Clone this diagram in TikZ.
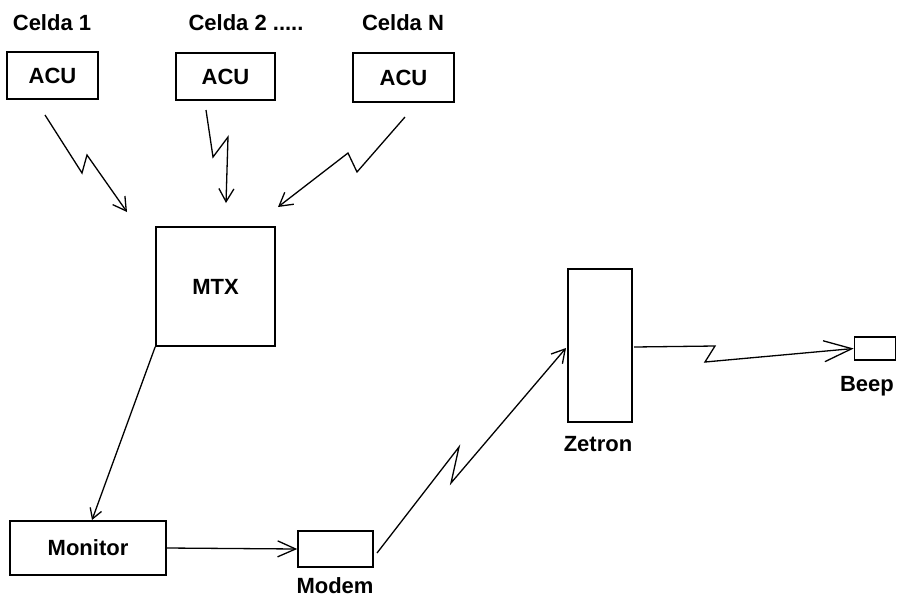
\documentclass[tikz,border=0pt]{standalone}
\usepackage{fontspec}
\setmainfont{Liberation Sans}
\usetikzlibrary{arrows.meta}
\begin{document}
\begin{tikzpicture}[x=1pt,y=-1pt,
  box/.style={draw=black,line width=1.6pt,rectangle,inner sep=0pt},
  lbl/.style={font=\fontsize{22}{25}\selectfont\bfseries,inner sep=0pt},
  conn/.style={draw=black,line width=1.3pt,line join=miter},
  arr/.style={-{Straight Barb[length=13pt,width=15pt,line width=1.3pt]}},
  bigarr/.style={-{Straight Barb[length=28pt,width=21pt,line width=1.3pt]}},
  midarr/.style={-{Straight Barb[length=18pt,width=16pt,line width=1.3pt]}}]
\useasboundingbox[fill=white] (0,0) rectangle (897,598);
% labels
\node[lbl] (t1) at (52,23) {Celda 1};
\node[lbl] (t2) at (246,23) {Celda 2 .....};
\node[lbl] (t3) at (403,23) {Celda N};
% boxes
\node[box,lbl,minimum width=91pt,minimum height=47pt] (acu1) at (52.5,75.5) {ACU};
\node[box,lbl,minimum width=99pt,minimum height=47pt] (acu2) at (225.5,76.5) {ACU};
\node[box,lbl,minimum width=101pt,minimum height=49pt] (acu3) at (403.5,77.5) {ACU};
\node[box,lbl,minimum width=119pt,minimum height=119pt] (mtx) at (215.5,286.5) {MTX};
\node[box,lbl,minimum width=156pt,minimum height=54pt] (monitor) at (88,548) {Monitor};
\node[box,minimum width=75pt,minimum height=36pt] (modem) at (335.5,549) {};
\node[box,minimum width=64pt,minimum height=153pt] (zetron) at (600,345.5) {};
\node[box,minimum width=41pt,minimum height=23pt] (beep) at (875,348.5) {};
\node[lbl] (lmodem) at (335,586) {Modem};
\node[lbl] (lzetron) at (598,444) {Zetron};
\node[lbl] (lbeep) at (867,386) {Beep};
% coordinates
\coordinate (s1) at (45,115);
\coordinate (e1) at (127,212);
\coordinate (s2) at (206,110);
\coordinate (e2) at (226,203);
\coordinate (s3) at (405,117);
\coordinate (e3) at (278,207);
\coordinate (smod) at (377,553);
\coordinate (ezet) at (566,348);
\coordinate (szet) at (634,347);
\coordinate (emon) at (92,520);
% connectors
\draw[conn,arr] (s1) -- (82,173) -- (87,155) -- (e1);
\draw[conn,arr] (s2) -- (213,157) -- (228,137) -- (e2);
\draw[conn,arr] (s3) -- (357,172) -- (348,153) -- (e3);
\draw[conn,-{Straight Barb[length=10pt,width=12pt,line width=1.3pt]}] (mtx.south west) -- (emon);
\draw[conn,midarr] (monitor.east) -- (modem.west);
\draw[conn,arr] (smod) -- (459,447) -- (451,483) -- (ezet);
\draw[conn,bigarr] (szet) -- (715,346) -- (705,362) -- (beep.west);
\end{tikzpicture}
\end{document}
